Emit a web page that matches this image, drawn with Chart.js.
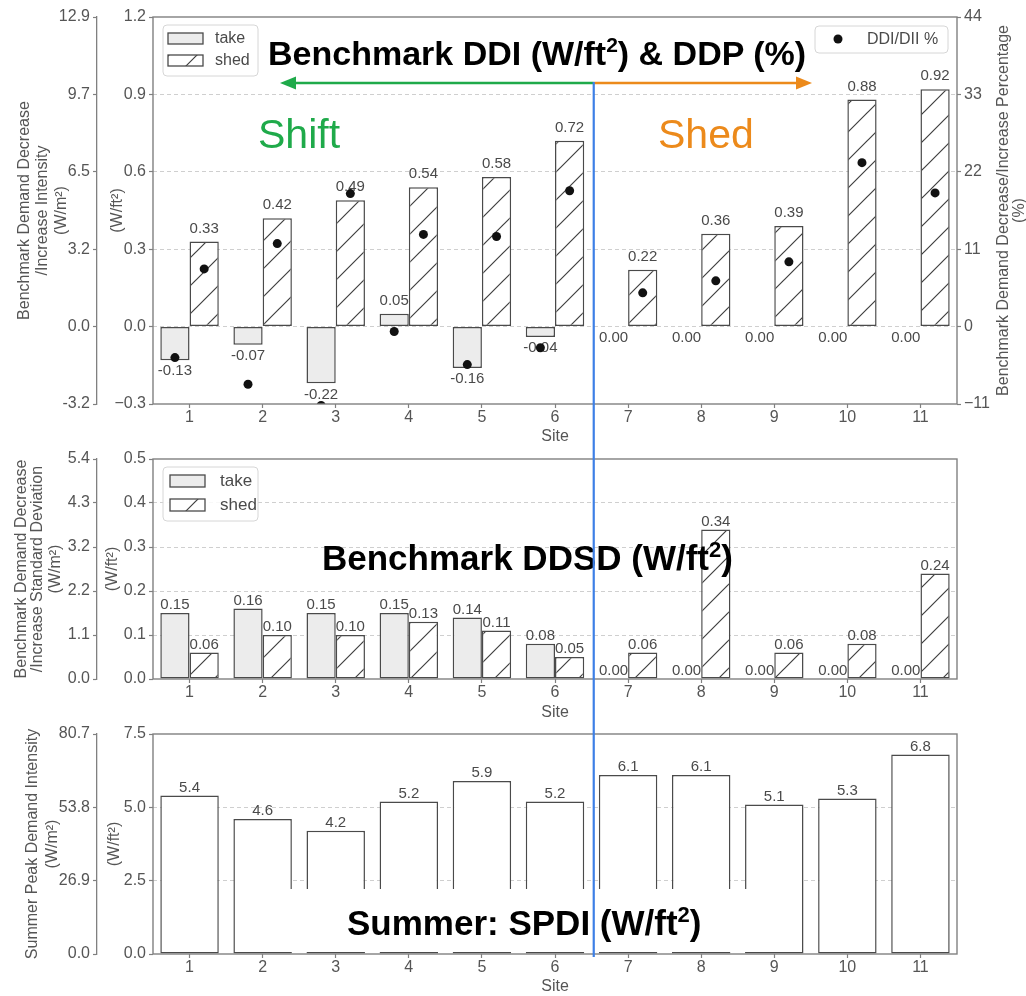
<!DOCTYPE html>
<html lang="en">
<head>
<meta charset="utf-8">
<title>Benchmark DDI, DDSD and SPDI by site</title>
<script src="https://cdn.jsdelivr.net/npm/chart.js@4.4.1/dist/chart.umd.min.js"></script>
<style>
  html, body { margin: 0; padding: 0; background: #ffffff; }
  #figure { position: relative; width: 1026px; height: 996px; overflow: hidden; background: #fff; }
  #figure canvas { position: absolute; left: 0; }
  #notes { position: absolute; left: 0; top: 0; pointer-events: none; }
  #notes text { font-family: 'Liberation Sans', Arial, Helvetica, sans-serif; }
</style>
</head>
<body>
<div id="figure">
  <canvas id="ddiChart" width="1026" height="446" style="top:0px"></canvas>
  <canvas id="ddsdChart" width="1026" height="277" style="top:445px"></canvas>
  <canvas id="spdiChart" width="1026" height="276" style="top:720px"></canvas>
  <svg id="notes" width="1026" height="996" xmlns="http://www.w3.org/2000/svg"></svg>
</div>
<script>
// ---------- data ----------
const sites = [1, 2, 3, 4, 5, 6, 7, 8, 9, 10, 11];
const ddiTake = [-0.13, -0.07, -0.22, 0.05, -0.16, -0.04, 0, 0, 0, 0, 0];
const ddiShed = [0.33, 0.42, 0.49, 0.54, 0.58, 0.72, 0.22, 0.36, 0.39, 0.88, 0.92];
const ddpTake = [-4.4, -8.2, -11.2, -0.7, -5.4, -3.0, null, null, null, null, null];
const ddpShed = [8.2, 11.8, 18.9, 13.1, 12.8, 19.3, 4.8, 6.5, 9.2, 23.3, 19.0];
const ddsdTake = [0.15, 0.16, 0.15, 0.15, 0.14, 0.08, 0, 0, 0, 0, 0];
const ddsdShed = [0.06, 0.10, 0.10, 0.13, 0.11, 0.05, 0.06, 0.34, 0.06, 0.08, 0.24];
const spdi = [5.4, 4.6, 4.2, 5.2, 5.9, 5.2, 6.1, 6.1, 5.1, 5.3, 6.8];

// tick values (W/ft² on the inner axes, % on the right axis)
const ddiTicks = [-0.3, 0, 0.3, 0.6, 0.9, 1.2];
const ddpTicks = [-11, 0, 11, 22, 33, 44];
const ddsdTicks = [0, 0.1, 0.2, 0.3, 0.4, 0.5];
const spdiTicks = [0, 2.5, 5, 7.5];
const M2_PER_FT2 = 10.764;   // W/ft² -> W/m²

// ---------- look ----------
const FONT = "'Liberation Sans', Arial, Helvetica, sans-serif";
const TEXT = '#555555';
const SPINE = '#808080';
const GRID = '#cfcfcf';
const EDGE = '#4a4a4a';
const TAKE_FILL = '#ececec';
const GROUP = 0.8;            // share of a site slot used by its bars
const DOT_SHIFT = GROUP / 4;  // centre of each half of a bar pair

Chart.defaults.font.family = FONT;
Chart.defaults.font.size = 16;
Chart.defaults.color = TEXT;

function makeHatch() {
  const s = 28;
  const c = document.createElement('canvas');
  c.width = s; c.height = s;
  const g = c.getContext('2d');
  g.fillStyle = '#ffffff';
  g.fillRect(0, 0, s, s);
  g.strokeStyle = '#404040';
  g.lineWidth = 1.2;
  g.beginPath();
  g.moveTo(-1, s + 1); g.lineTo(s + 1, -1);
  g.moveTo(-2, 2); g.lineTo(2, -2);
  g.moveTo(s - 2, s + 2); g.lineTo(s + 2, s - 2);
  g.stroke();
  return g.createPattern(c, 'repeat');
}
const hatch = makeHatch();

// ---------- scales ----------
function siteAxis(height) {
  return {
    type: 'linear', position: 'bottom', min: 0.5, max: 11.5, bounds: 'data', offset: false,
    border: { display: false },
    grid: { offset: false, drawOnChartArea: false, drawTicks: true, tickLength: 4,
            tickColor: SPINE, tickWidth: 1.2, color: SPINE },
    ticks: { color: TEXT, font: { size: 16 }, padding: 0, maxRotation: 0, autoSkip: false,
             callback: v => String(v) },
    title: { display: true, text: 'Site', color: TEXT, font: { size: 16 }, padding: 0 },
    afterBuildTicks: s => { s.ticks = sites.map(v => ({ value: v })); },
    afterFit: s => { s.height = height; }
  };
}
function ftAxis(ticks) {
  const last = ticks.length - 1;
  return {
    type: 'linear', position: 'left', weight: 0, min: ticks[0], max: ticks[last], bounds: 'data',
    border: { display: false, dash: [4, 3] },
    grid: { color: c => (c.index === 0 || c.index === last) ? 'rgba(0,0,0,0)' : GRID,
            lineWidth: 1, drawTicks: true, tickLength: 4, tickColor: SPINE, tickWidth: 1.2 },
    ticks: { color: TEXT, font: { size: 16 }, padding: 3,
             callback: v => (v < 0 ? '\u2212' : '') + Math.abs(v).toFixed(1) },
    afterBuildTicks: s => { s.ticks = ticks.map(v => ({ value: v })); },
    afterFit: s => { s.width = 56; }
  };
}
function m2Axis(ticks) {
  const last = ticks.length - 1;
  return {
    type: 'linear', position: 'left', weight: 1,
    min: ticks[0] * M2_PER_FT2, max: ticks[last] * M2_PER_FT2, bounds: 'data',
    border: { display: true, color: SPINE, width: 1.3 },
    grid: { drawOnChartArea: false, drawTicks: true, tickLength: 4, tickColor: SPINE, tickWidth: 1.2 },
    ticks: { color: TEXT, font: { size: 16 }, padding: 3, callback: v => v.toFixed(1) },
    afterBuildTicks: s => { s.ticks = ticks.map(v => ({ value: v * M2_PER_FT2 })); },
    afterFit: s => { s.width = 97; }
  };
}
function pctAxis(ticks) {
  const last = ticks.length - 1;
  return {
    type: 'linear', position: 'right', min: ticks[0], max: ticks[last], bounds: 'data',
    border: { display: false },
    grid: { drawOnChartArea: false, drawTicks: true, tickLength: 4, tickColor: SPINE, tickWidth: 1.2 },
    ticks: { color: TEXT, font: { size: 16 }, padding: 3,
             callback: v => (v < 0 ? '\u2212' : '') + Math.abs(v) },
    afterBuildTicks: s => { s.ticks = ticks.map(v => ({ value: v })); },
    afterFit: s => { s.width = 69; }
  };
}

// ---------- plugins ----------
const framePlugin = {
  id: 'frame',
  afterDatasetsDraw(chart) {
    const { ctx, chartArea: a } = chart;
    ctx.save();
    ctx.strokeStyle = SPINE;
    ctx.lineWidth = 1.4;
    ctx.strokeRect(a.left, a.top, a.right - a.left, a.bottom - a.top);
    ctx.restore();
  }
};

// value labels written at the end of each bar
function valueLabels(sets, above, below) {
  return {
    id: 'valueLabels',
    afterDatasetDraw(chart, args) {
      const spec = sets[args.index];
      if (!spec) return;
      const ds = chart.data.datasets[args.index];
      const ctx = chart.ctx;
      ctx.save();
      ctx.font = '15px ' + FONT;
      ctx.fillStyle = '#4a4a4a';
      ctx.textAlign = 'center';
      ctx.textBaseline = 'middle';
      args.meta.data.forEach((bar, i) => {
        const v = ds.data[i];
        if (v === null || v === undefined) return;
        const down = v < 0 || (v === 0 && spec.zeroBelow);
        ctx.fillText(v.toFixed(spec.digits), bar.x, down ? bar.y + below : bar.y - above);
      });
      ctx.restore();
    }
  };
}

// rotated axis captions (read bottom to top)
function sideTitles(items) {
  return {
    id: 'sideTitles',
    afterDraw(chart) {
      const { ctx, chartArea: a } = chart;
      const cy = (a.top + a.bottom) / 2;
      ctx.save();
      ctx.fillStyle = TEXT;
      ctx.font = '16px ' + FONT;
      ctx.textAlign = 'center';
      ctx.textBaseline = 'middle';
      items.forEach(it => {
        ctx.save();
        ctx.translate(it.x, cy);
        ctx.rotate(-Math.PI / 2);
        ctx.fillText(it.text, 0, 0);
        ctx.restore();
      });
      ctx.restore();
    }
  };
}

function roundedBox(ctx, x, y, w, h, r) {
  ctx.beginPath();
  ctx.moveTo(x + r, y);
  ctx.arcTo(x + w, y, x + w, y + h, r);
  ctx.arcTo(x + w, y + h, x, y + h, r);
  ctx.arcTo(x, y + h, x, y, r);
  ctx.arcTo(x, y, x + w, y, r);
  ctx.closePath();
  ctx.fillStyle = 'rgba(255,255,255,0.85)';
  ctx.fill();
  ctx.strokeStyle = '#d6d6d6';
  ctx.lineWidth = 1;
  ctx.stroke();
}

// take / shed key in the upper-left corner of a panel
function barKey(geom) {
  return {
    id: 'barKey',
    afterDraw(chart) {
      const { ctx, chartArea: a } = chart;
      const ox = a.left + 10, oy = a.top + 8;
      ctx.save();
      roundedBox(ctx, ox, oy, geom.w, geom.h, 4);
      [['take', TAKE_FILL, geom.rows[0]], ['shed', hatch, geom.rows[1]]].forEach(([name, fill, row]) => {
        ctx.fillStyle = fill;
        ctx.fillRect(ox + geom.sx, oy + row, 35, geom.sh);
        ctx.strokeStyle = EDGE;
        ctx.lineWidth = 1.3;
        ctx.strokeRect(ox + geom.sx, oy + row, 35, geom.sh);
        ctx.fillStyle = '#4a4a4a';
        ctx.font = geom.font + 'px ' + FONT;
        ctx.textAlign = 'left';
        ctx.textBaseline = 'middle';
        ctx.fillText(name, ox + geom.tx, oy + row + geom.sh / 2 + 0.5);
      });
      ctx.restore();
    }
  };
}

// key for the percentage dots, upper-right corner
const dotKey = {
  id: 'dotKey',
  afterDraw(chart) {
    const { ctx, chartArea: a } = chart;
    const w = 133, h = 27;
    const x = a.right - 9 - w, y = a.top + 9;
    ctx.save();
    roundedBox(ctx, x, y, w, h, 4);
    ctx.fillStyle = '#111';
    ctx.beginPath();
    ctx.arc(x + 23, y + 13, 4.5, 0, Math.PI * 2);
    ctx.fill();
    ctx.fillStyle = '#4a4a4a';
    ctx.font = '16px ' + FONT;
    ctx.textAlign = 'left';
    ctx.textBaseline = 'middle';
    ctx.fillText('DDI/DII %', x + 52, y + 14);
    ctx.restore();
  }
};

const barStyle = { borderColor: EDGE, borderWidth: 1.5, borderSkipped: false,
                   categoryPercentage: GROUP, barPercentage: 1 };
const common = {
  responsive: false, animation: false, devicePixelRatio: 1, events: [],
  plugins: { legend: { display: false }, tooltip: { enabled: false } }
};

// ---------- panel 1: DDI and DDP ----------
const ddpPoints = [];
sites.forEach((s, i) => { if (ddpTake[i] !== null) ddpPoints.push({ x: s - DOT_SHIFT, y: ddpTake[i] }); });
sites.forEach((s, i) => { if (ddpShed[i] !== null) ddpPoints.push({ x: s + DOT_SHIFT, y: ddpShed[i] }); });

const ddiChart = new Chart(document.getElementById('ddiChart'), {
  type: 'bar',
  data: {
    labels: sites,
    datasets: [
      Object.assign({ label: 'take', data: ddiTake, yAxisID: 'y', backgroundColor: TAKE_FILL }, barStyle),
      Object.assign({ label: 'shed', data: ddiShed, yAxisID: 'y', backgroundColor: hatch }, barStyle),
      { type: 'scatter', label: 'DDI/DII %', data: ddpPoints, yAxisID: 'yPct', order: -1, clip: 0,
        pointRadius: 4.5, pointBackgroundColor: '#111', pointBorderColor: '#111', pointBorderWidth: 0 }
    ]
  },
  options: Object.assign({}, common, {
    layout: { padding: { top: 17, bottom: 0, left: 0, right: 0 } },
    scales: { x: siteAxis(42), y: ftAxis(ddiTicks), yOuter: m2Axis(ddiTicks), yPct: pctAxis(ddpTicks) }
  }),
  plugins: [
    framePlugin,
    valueLabels({ 0: { digits: 2, zeroBelow: true }, 1: { digits: 2 } }, 13, 11),
    sideTitles([
      { x: 25, text: 'Benchmark Demand Decrease' },
      { x: 43, text: '/Increase Intensity' },
      { x: 62, text: '(W/m\u00B2)' },
      { x: 118, text: '(W/ft\u00B2)' },
      { x: 1004, text: 'Benchmark Demand Decrease/Increase Percentage' },
      { x: 1020, text: '(%)' }
    ]),
    barKey({ w: 95, h: 51, sx: 5, sh: 11, tx: 52, rows: [8, 30], font: 16 }),
    dotKey
  ]
});

// ---------- panel 2: DDSD ----------
new Chart(document.getElementById('ddsdChart'), {
  type: 'bar',
  data: {
    labels: sites,
    datasets: [
      Object.assign({ label: 'take', data: ddsdTake, yAxisID: 'y', backgroundColor: TAKE_FILL }, barStyle),
      Object.assign({ label: 'shed', data: ddsdShed, yAxisID: 'y', backgroundColor: hatch }, barStyle)
    ]
  },
  options: Object.assign({}, common, {
    layout: { padding: { top: 14, bottom: 0, left: 0, right: 69 } },
    scales: { x: siteAxis(43), y: ftAxis(ddsdTicks), yOuter: m2Axis(ddsdTicks) }
  }),
  plugins: [
    framePlugin,
    valueLabels({ 0: { digits: 2 }, 1: { digits: 2 } }, 8, 10),
    sideTitles([
      { x: 22, text: 'Benchmark Demand Decrease' },
      { x: 38, text: '/Increase Standard Deviation' },
      { x: 56, text: '(W/m\u00B2)' },
      { x: 113, text: '(W/ft\u00B2)' }
    ]),
    barKey({ w: 95, h: 54, sx: 7, sh: 12, tx: 57, rows: [8, 32], font: 17 })
  ]
});

// ---------- panel 3: SPDI ----------
new Chart(document.getElementById('spdiChart'), {
  type: 'bar',
  data: {
    labels: sites,
    datasets: [
      Object.assign({ label: 'SPDI', data: spdi, yAxisID: 'y', backgroundColor: '#ffffff' }, barStyle)
    ]
  },
  options: Object.assign({}, common, {
    layout: { padding: { top: 14, bottom: 0, left: 0, right: 69 } },
    scales: { x: siteAxis(42), y: ftAxis(spdiTicks), yOuter: m2Axis(spdiTicks) }
  }),
  plugins: [
    framePlugin,
    valueLabels({ 0: { digits: 1 } }, 8, 10),
    sideTitles([
      { x: 33, text: 'Summer Peak Demand Intensity' },
      { x: 53, text: '(W/m\u00B2)' },
      { x: 115, text: '(W/ft\u00B2)' }
    ])
  ]
});

// ---------- headings, shift/shed arrows and divider ----------
const NS = 'http://www.w3.org/2000/svg';
const notes = document.getElementById('notes');
function el(tag, attrs, parent) {
  const e = document.createElementNS(NS, tag);
  Object.keys(attrs).forEach(k => e.setAttribute(k, attrs[k]));
  (parent || notes).appendChild(e);
  return e;
}
function heading(x, y, size, parts) {
  const t = el('text', { x: x, y: y, 'font-size': size, 'font-weight': 'bold', fill: '#000' });
  parts.forEach(p => {
    const s = el('tspan', p.sup ? { dy: -Math.round(size * 0.38), 'font-size': Math.round(size * 0.62) }
                                : (p.back ? { dy: Math.round(size * 0.38) } : {}), t);
    s.textContent = p.text;
  });
  return t;
}

const DIVIDE_AT = 6.53;   // between the shift sites (1-6) and shed-only sites (7-11)
const ARROW_Y = 83;
const xDiv = ddiChart.scales.x.getPixelForValue(DIVIDE_AT);
const GREEN = '#1faa4a';
const ORANGE = '#ec8a1b';
const BLUE = '#3d7fe6';

// blank band across the lower SPDI bars that carries the panel heading
el('rect', { x: 250, y: 889, width: 522, height: 63, fill: '#ffffff' });

heading(268, 65, 34, [{ text: 'Benchmark DDI (W/ft' }, { text: '2', sup: true }, { text: ') & DDP (%)', back: true }]);
heading(322, 570, 35, [{ text: 'Benchmark DDSD (W/ft' }, { text: '2', sup: true }, { text: ')', back: true }]);
heading(347, 935, 35, [{ text: 'Summer: SPDI (W/ft' }, { text: '2', sup: true }, { text: ')', back: true }]);

const shift = el('text', { x: 258, y: 148, 'font-size': 41, fill: GREEN });
shift.textContent = 'Shift';
const shed = el('text', { x: 658, y: 148, 'font-size': 41, fill: ORANGE });
shed.textContent = 'Shed';

const leftTip = 280, rightTip = 812, head = 16, half = 6.5;
el('line', { x1: xDiv, y1: ARROW_Y, x2: leftTip + head - 2, y2: ARROW_Y, stroke: GREEN, 'stroke-width': 2.6 });
el('polygon', { points: `${leftTip},${ARROW_Y} ${leftTip + head},${ARROW_Y - half} ${leftTip + head},${ARROW_Y + half}`, fill: GREEN });
el('line', { x1: xDiv, y1: ARROW_Y, x2: rightTip - head + 2, y2: ARROW_Y, stroke: ORANGE, 'stroke-width': 2.6 });
el('polygon', { points: `${rightTip},${ARROW_Y} ${rightTip - head},${ARROW_Y - half} ${rightTip - head},${ARROW_Y + half}`, fill: ORANGE });

el('line', { x1: xDiv, y1: ARROW_Y - 1, x2: xDiv, y2: 957, stroke: BLUE, 'stroke-width': 2.2 });
</script>
</body>
</html>
